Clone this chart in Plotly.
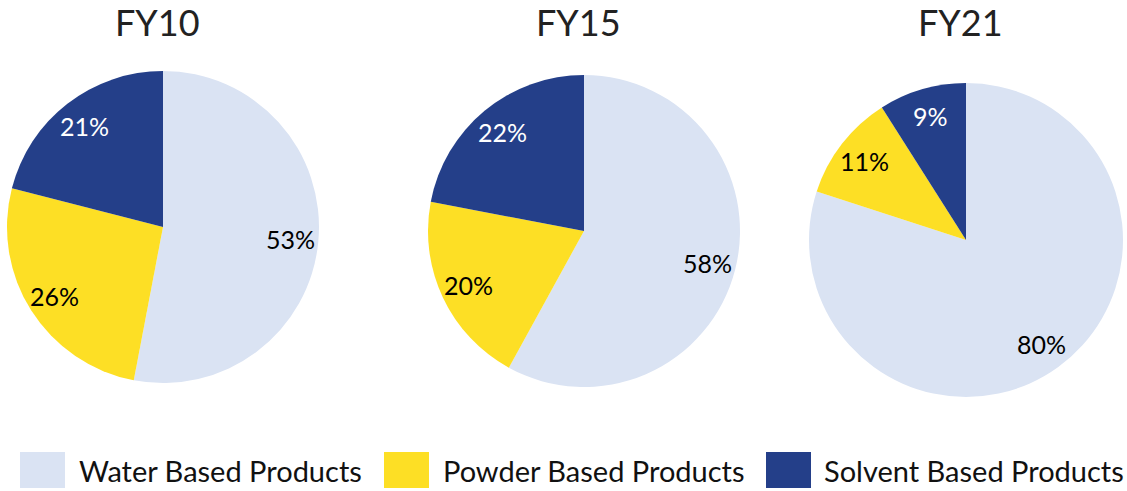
import math
import plotly.graph_objects as go

# Product mix by fiscal year (percent of total)
years = ["FY10", "FY15", "FY21"]
categories = ["Water Based Products", "Powder Based Products", "Solvent Based Products"]
water = [53, 58, 80]
powder = [26, 20, 11]
solvent = [21, 22, 9]

colors = ["#DAE3F3", "#FDDF25", "#243F89"]
label_colors = ["#000000", "#000000", "#FFFFFF"]

W, H = 1127, 491
FONT = "Lato"

# Pie geometry in pixels: centre x, centre y (from top), radius
geom = [(163, 227, 156), (584, 231, 156), (966, 240, 157)]

fig = go.Figure()
annotations = []

for i, yr in enumerate(years):
    vals = [water[i], powder[i], solvent[i]]
    cx, cy, r = geom[i]
    fig.add_trace(go.Pie(
        labels=categories,
        values=vals,
        sort=False,
        direction="clockwise",
        rotation=0,
        textinfo="none",
        hoverinfo="label+percent",
        marker=dict(colors=colors, line=dict(width=0)),
        showlegend=False,
        domain=dict(x=[(cx - r) / W, (cx + r) / W],
                    y=[1 - (cy + r) / H, 1 - (cy - r) / H]),
    ))

    # percentage labels placed along each slice's mid-angle
    total = sum(vals)
    cum = 0
    for v, tc in zip(vals, label_colors):
        mid = (cum + v / 2) / total
        cum += v
        ang = math.radians(90 - 360 * mid)
        px = cx + 0.82 * r * math.cos(ang)
        py = cy - 0.82 * r * math.sin(ang)
        annotations.append(dict(
            x=px / W, y=1 - py / H, xref="paper", yref="paper",
            text=f"{v}%", showarrow=False,
            font=dict(family=FONT, size=25, color=tc),
            xanchor="center", yanchor="middle",
        ))

    # year heading above each pie
    annotations.append(dict(
        x=(cx - 6) / W, y=1 - 22 / H, xref="paper", yref="paper",
        text=yr, showarrow=False,
        font=dict(family=FONT, size=36, color="#222222"),
        xanchor="center", yanchor="middle",
    ))

# Legend built from swatches and text along the bottom
shapes = []
legend_x = [(20, 77), (384, 441), (766, 822)]
for (sx, tx), cat, col in zip(legend_x, categories, colors):
    shapes.append(dict(
        type="rect", xref="paper", yref="paper",
        x0=sx / W, x1=(sx + 45) / W, y0=1 - 488 / H, y1=1 - 452 / H,
        fillcolor=col, line=dict(width=0),
    ))
    annotations.append(dict(
        x=tx / W, y=1 - 470 / H, xref="paper", yref="paper",
        text=cat, showarrow=False,
        font=dict(family=FONT, size=29, color="#111111"),
        xanchor="left", yanchor="middle",
    ))

fig.update_layout(
    width=W, height=H,
    margin=dict(l=0, r=0, t=0, b=0),
    paper_bgcolor="white", plot_bgcolor="white",
    annotations=annotations, shapes=shapes,
)

fig.write_html("out.html")
